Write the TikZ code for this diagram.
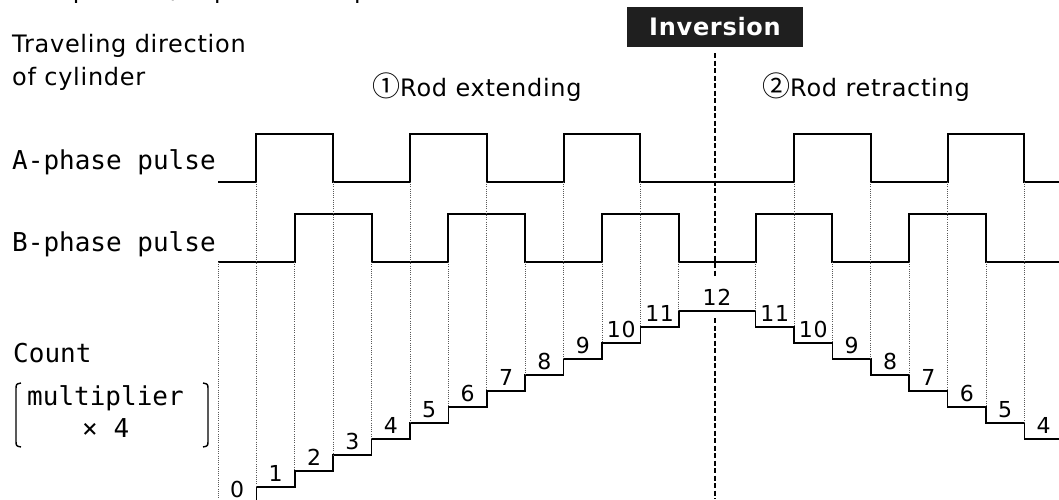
\documentclass[tikz,border=0pt]{standalone}
\usepackage{fontspec}
\setmainfont{DejaVu Sans}[LetterSpace=3]
\newfontfamily\monofont{DejaVu Sans Mono}
\newfontfamily\cjkfont{Noto Sans CJK JP}
\usepackage{tikz}
\tikzstyle{wave}=[line width=2pt]
\tikzstyle{stair}=[line width=1.6pt]
\tikzstyle{guide}=[black!65, line width=0.9pt, dash pattern=on 1pt off 1.2pt]
\tikzstyle{invline}=[line width=2.4pt, dash pattern=on 5pt off 2.5pt]
\tikzstyle{brace}=[line width=1.4pt]
\tikzstyle{txt}=[inner sep=0, anchor=base west, font=\fontsize{24}{28}\selectfont]
\tikzstyle{lbl}=[inner sep=0, anchor=base west, font=\monofont\fontsize{26}{30}\selectfont]
\tikzstyle{num}=[inner sep=0, anchor=base, font=\fontsize{22}{26}\selectfont]
\newcommand{\xstart}{218}
\newcommand{\qw}{38.4}
\newcommand{\circled}[1]{{\cjkfont\fontsize{28}{28}\selectfont #1}}

\begin{document}
\begin{tikzpicture}[x=1pt, y=-1pt]
    \useasboundingbox (0,0) rectangle (1059,499);
    \node[txt] (title) at (27,-1.5) {Output of A/B quadrature pulse};
    \node[txt] (dir1) at (12,52) {Traveling direction};
    \node[txt] (dir2) at (12,85) {of cylinder};
    \node[txt] (ext) at (372,96) {\circled{①}Rod extending};
    \node[txt] (ret) at (762,96) {\circled{②}Rod retracting};
    \node[lbl] (pa) at (12,169) {A-phase pulse};
    \node[lbl] (pb) at (12,251) {B-phase pulse};
    \node[lbl] (cnt) at (13,362) {Count};
    \node[lbl] (mul1) at (27,405) {multiplier};
    \node[lbl] (mul2) at (82,437) {× 4};
    \node[fill=black!88, text=white, minimum width=176pt, minimum height=40pt,
      inner sep=0, font=\bfseries\fontsize{24}{28}\selectfont] (inv) at (715,27) {Inversion};

    % pulses
    \draw[wave] (\xstart,182) \foreach \a/\b in {1/3,5/7,9/11,15/17,19/21}
      { -- ({\xstart+\qw*\a},182) -- ({\xstart+\qw*\a},134)
        -- ({\xstart+\qw*\b},134) -- ({\xstart+\qw*\b},182) } -- (1059,182);
    \draw[wave] (\xstart,262) \foreach \a/\b in {2/4,6/8,10/12,14/16,18/20}
      { -- ({\xstart+\qw*\a},262) -- ({\xstart+\qw*\a},214)
        -- ({\xstart+\qw*\b},214) -- ({\xstart+\qw*\b},262) } -- (1059,262);

    % count steps
    \draw[stair] ({\xstart+\qw},499) \foreach \k in {1,...,12}
      { -- ({\xstart+\qw*\k},{503-16*(\k-1)}) -- ({\xstart+\qw*\k},{503-16*\k}) }
      \foreach \k in {14,...,21}
      { -- ({\xstart+\qw*\k},{503-16*(26-\k)}) -- ({\xstart+\qw*\k},{503-16*(25-\k)}) }
      -- (1059,439);
    \foreach \n in {0,...,11}
      \node[num] (c\n) at ({\xstart+\qw*(\n+0.5)},{497-16*\n}) {\n};
    \node[num] (c12) at (717,305.5) {12};
    \foreach \k [evaluate=\k as \m using int(25-\k)] in {14,...,21}
      \node[num] (r\m) at ({\xstart+\qw*(\k+0.5)},{497.5-16*\m}) {\m};

    % edges down to the count
    \draw[guide] (\xstart,262) -- (\xstart,499);
    \foreach \k in {1,...,21} {
      \pgfmathsetmacro\ys{isodd(\k) ? 182 : 262}
      \pgfmathsetmacro\ye{503-16*min(\k,26-\k)}
      \ifnum\k=13\else
        \draw[guide] ({\xstart+\qw*\k},\ys) -- ({\xstart+\qw*\k},\ye);
      \fi
    }

    \draw[invline] ([yshift=-6pt]inv.south) -- (715,278) (715,318) -- (715,499);

    \draw[brace] (21,383) .. controls (16,384) .. (16,390) -- (16,440)
      .. controls (16,446) .. (21,447);
    \draw[brace] (203,383) .. controls (208,384) .. (208,390) -- (208,440)
      .. controls (208,446) .. (203,447);
\end{tikzpicture}
\end{document}
